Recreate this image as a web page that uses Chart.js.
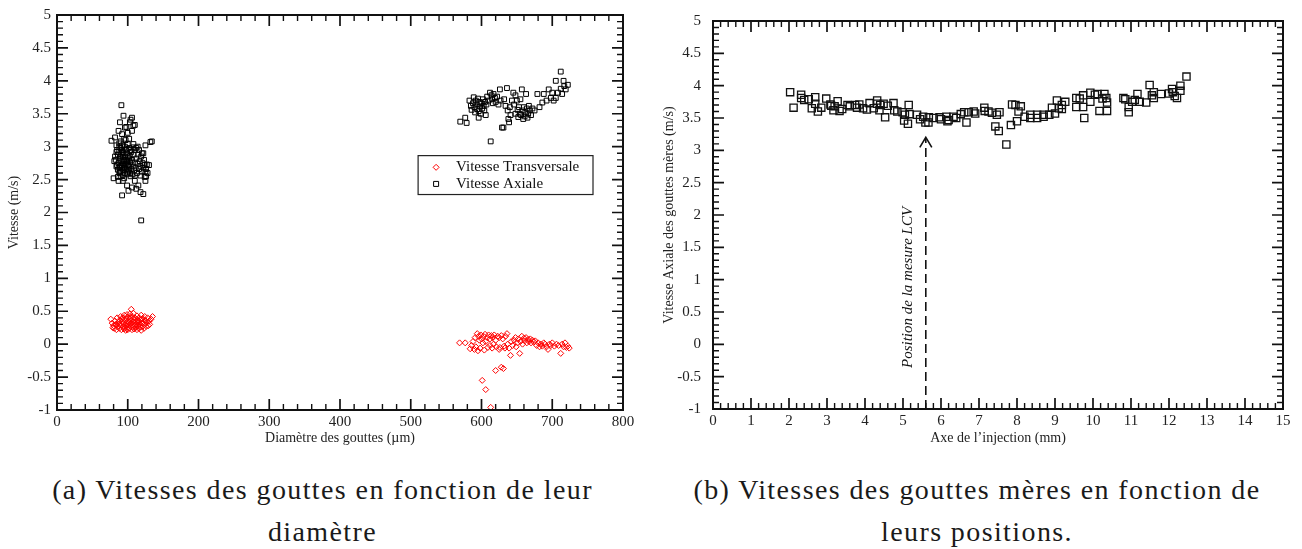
<!DOCTYPE html>
<html><head><meta charset="utf-8">
<script src="https://cdn.jsdelivr.net/npm/chart.js@4.4.1/dist/chart.umd.min.js"></script>
<style>
html,body{margin:0;padding:0;background:#fff;}
body{width:1302px;height:549px;position:relative;overflow:hidden;}
canvas{position:absolute;top:0;}
#cA{left:0}#cB{left:650px}
.cap{position:absolute;top:469px;text-align:center;white-space:nowrap;font-family:"Liberation Serif","Times New Roman",serif;font-size:28px;line-height:42px;letter-spacing:1.4px;color:#1a1a1a;}
</style></head><body>
<canvas id="cA" width="650" height="455"></canvas>
<canvas id="cB" width="652" height="455"></canvas>
<div class="cap" style="left:0;width:645px">(a) Vitesses des gouttes en fonction de leur<br>diamètre</div>
<div class="cap" style="left:652px;width:650px">(b) Vitesses des gouttes mères en fonction de<br>leurs positions.</div>
<script>
// ---------- data (a): [diamètre µm, vitesse m/s] ----------
const transSmall = [[76,0.38],[78,0.32],[80,0.28],[81,0.24],[82,0.35],[83,0.30],[84,0.22],[85,0.40],[86,0.27],[87,0.33],[88,0.24],[89,0.37],[90,0.29],[90,0.42],[91,0.22],[92,0.34],[93,0.26],[93,0.40],[94,0.31],[95,0.23],[95,0.44],[96,0.36],[97,0.28],[97,0.21],[98,0.39],[98,0.32],[99,0.25],[99,0.45],[100,0.35],[100,0.22],[101,0.41],[101,0.29],[102,0.33],[102,0.24],[103,0.38],[103,0.46],[104,0.27],[104,0.31],[105,0.53],[105,0.36],[106,0.22],[106,0.42],[107,0.30],[107,0.26],[108,0.38],[108,0.47],[109,0.33],[109,0.23],[110,0.29],[110,0.40],[111,0.35],[111,0.25],[112,0.31],[113,0.43],[113,0.22],[114,0.28],[114,0.36],[115,0.33],[116,0.24],[116,0.40],[117,0.30],[118,0.26],[118,0.37],[119,0.44],[119,0.21],[120,0.32],[121,0.27],[121,0.39],[122,0.34],[123,0.24],[124,0.42],[124,0.30],[125,0.36],[126,0.27],[127,0.33],[128,0.40],[129,0.28],[130,0.35],[131,0.30],[133,0.38],[135,0.42],[88,0.30],[92,0.38],[96,0.25],[100,0.30],[104,0.40],[108,0.34],[112,0.26],[116,0.35],[120,0.38],[79,0.25],[84,0.30]];
const transLarge = [[569,0.02],[577,0.02],[584,-0.07],[586,-0.02],[588,0.04],[590,-0.08],[591,0.10],[592,-0.04],[594,0.16],[595,-0.10],[596,0.12],[597,0.06],[598,-0.06],[599,0.14],[600,0.08],[601,-0.55],[602,0.02],[603,0.12],[604,-0.09],[605,0.15],[606,-0.69],[606,0.04],[608,0.10],[609,-0.05],[610,0.14],[612,0.08],[613,-0.96],[614,0.13],[615,-0.06],[616,0.10],[618,0.14],[620,-0.40],[620,0.06],[621,-0.04],[623,0.12],[625,0.10],[626,-0.05],[628,-0.35],[628,0.13],[630,0.08],[631,-0.37],[632,-0.03],[634,0.12],[636,0.16],[637,0.00],[639,-0.06],[641,-0.17],[642,0.04],[644,-0.02],[646,0.06],[648,0.10],[649,-0.04],[651,0.02],[652,0.08],[654,-0.14],[655,0.04],[657,0.12],[658,0.00],[660,0.09],[661,0.05],[663,0.10],[664,0.02],[666,0.07],[667,0.04],[669,0.08],[670,0.02],[672,0.06],[674,0.03],[676,0.05],[678,-0.02],[680,0.02],[682,-0.04],[684,0.00],[686,-0.03],[688,0.02],[690,0.00],[692,-0.04],[694,-0.08],[696,0.00],[698,-0.02],[700,0.02],[703,-0.03],[706,0.00],[709,-0.02],[712,-0.14],[714,0.00],[716,-0.04],[718,0.02],[720,-0.05],[722,-0.03],[724,-0.06],[612,-0.02],[617,0.00],[625,-0.08],[633,-0.06]];
const axialSmall = [[91,3.63],[94,3.47],[106,3.44],[103,3.37],[89,3.37],[96,3.29],[108,3.32],[106,3.24],[87,3.24],[92,3.19],[77,3.09],[82,3.14],[132,3.07],[134,3.08],[125,3.02],[108,3.04],[108,2.99],[110,3.33],[104,3.41],[98,3.30],[100,3.21],[95,3.12],[102,3.12],[88,3.05],[84,3.02],[90,3.08],[80,2.52],[87,2.48],[93,2.48],[110,2.48],[99,2.41],[106,2.38],[115,2.41],[118,2.31],[125,2.48],[122,2.28],[101,2.33],[92,2.26],[119,1.88],[112,2.36],[82,2.85],[83,2.80],[84,2.70],[85,2.95],[86,2.65],[86,2.88],[87,2.75],[88,2.60],[88,2.92],[89,2.70],[89,2.82],[90,2.98],[90,2.62],[91,2.78],[91,2.88],[92,2.68],[92,2.95],[93,2.57],[93,2.74],[93,2.84],[94,2.90],[94,2.65],[95,2.78],[95,2.70],[96,2.60],[96,2.85],[97,2.74],[97,2.95],[98,2.66],[98,2.80],[99,2.58],[99,2.90],[100,2.72],[100,2.84],[101,2.64],[101,2.78],[102,2.98],[102,2.70],[103,2.86],[103,2.60],[104,2.76],[105,2.66],[105,2.92],[106,2.80],[107,2.70],[107,2.58],[108,2.88],[109,2.64],[110,2.76],[110,2.95],[111,2.68],[112,2.82],[113,2.60],[114,2.74],[115,2.88],[116,2.66],[117,2.78],[118,2.70],[119,2.85],[120,2.62],[121,2.75],[122,2.68],[123,2.80],[124,2.72],[125,2.62],[126,2.66],[127,2.73],[128,2.60],[130,2.72],[86,2.54],[90,2.55],[95,2.52],[104,2.55],[118,2.56],[124,2.54],[81,2.78],[84,2.92],[88,3.00],[92,3.02],[96,3.00],[100,3.04],[97,3.10],[94,2.80],[91,2.72],[89,2.62],[96,2.68],[99,2.76],[93,2.92],[102,2.82],[85,2.72],[98,2.96],[88,2.68],[90,2.85],[104,2.95],[100,2.62],[116,2.95],[120,2.90],[112,2.98],[114,3.00],[126,2.55],[122,2.90],[110,2.56]];
const axialLarge = [[570,3.38],[577,3.44],[579,3.36],[583,3.70],[589,3.75],[585,3.62],[586,3.56],[588,3.66],[590,3.60],[591,3.52],[592,3.70],[593,3.64],[594,3.57],[595,3.73],[596,3.54],[597,3.68],[598,3.61],[599,3.50],[600,3.66],[601,3.58],[602,3.72],[603,3.62],[604,3.55],[605,3.68],[607,3.64],[608,3.76],[610,3.70],[612,3.82],[613,3.08],[614,3.78],[615,3.72],[616,3.66],[617,3.80],[619,3.74],[620,3.68],[622,3.76],[624,3.64],[626,3.87],[627,3.70],[629,3.29],[631,3.29],[632,3.72],[634,3.62],[636,3.89],[637,3.55],[638,3.42],[639,3.37],[640,3.60],[641,3.48],[643,3.70],[645,3.82],[646,3.64],[648,3.78],[650,3.70],[651,3.56],[652,3.45],[653,3.60],[654,3.50],[655,3.72],[656,3.48],[657,3.87],[658,3.55],[659,3.42],[660,3.60],[661,3.46],[662,3.52],[663,3.80],[664,3.58],[665,3.44],[666,3.50],[667,3.62],[668,3.55],[670,3.48],[672,3.58],[675,3.55],[679,3.80],[682,3.60],[686,3.67],[688,3.80],[692,3.70],[695,3.87],[698,3.74],[700,3.82],[702,3.70],[705,3.74],[705,4.00],[708,3.82],[712,4.14],[712,3.88],[716,4.00],[719,3.87],[722,3.94],[717,3.92],[714,3.80],[648,3.50],[606,3.48],[596,3.44]];
// ---------- data (b): [position mm, vitesse axiale m/s] ----------
const axialPos = [[2.03,3.90],[2.12,3.66],[2.32,3.86],[2.32,3.81],[2.52,3.79],[2.69,3.82],[2.69,3.72],[2.60,3.65],[2.76,3.60],[2.98,3.80],[3.09,3.71],[3.11,3.69],[3.28,3.76],[3.17,3.62],[3.33,3.61],[3.54,3.70],[3.74,3.70],[3.79,3.66],[3.95,3.65],[4.12,3.73],[4.32,3.77],[4.32,3.72],[4.49,3.72],[4.23,3.65],[4.38,3.62],[4.53,3.51],[4.75,3.73],[4.77,3.62],[4.99,3.59],[5.15,3.70],[5.03,3.46],[5.13,3.41],[5.17,3.56],[5.37,3.55],[5.53,3.52],[5.68,3.51],[5.59,3.43],[5.67,3.43],[5.96,3.51],[6.14,3.52],[6.20,3.47],[6.33,3.52],[6.17,3.45],[6.61,3.59],[6.73,3.59],[6.86,3.60],[6.67,3.43],[7.14,3.66],[7.15,3.61],[7.34,3.58],[7.54,3.59],[7.43,3.37],[7.52,3.30],[7.72,3.09],[7.87,3.71],[7.96,3.70],[8.10,3.68],[8.04,3.60],[8.00,3.45],[7.84,3.39],[8.35,3.55],[8.53,3.55],[8.70,3.55],[8.35,3.50],[8.53,3.50],[8.70,3.52],[8.92,3.66],[9.05,3.77],[9.18,3.70],[9.27,3.75],[9.00,3.57],[9.18,3.64],[9.56,3.81],[9.56,3.67],[9.74,3.85],[9.74,3.67],[9.77,3.50],[9.93,3.89],[9.93,3.75],[10.12,3.87],[10.30,3.87],[10.35,3.81],[10.37,3.74],[10.17,3.61],[10.37,3.61],[10.80,3.81],[10.94,3.67],[10.94,3.59],[11.03,3.75],[11.17,3.87],[11.23,3.75],[11.40,3.74],[11.60,3.81],[11.49,4.01],[11.60,3.90],[11.79,3.87],[12.08,3.95],[12.10,3.90],[12.21,3.81],[12.30,4.00],[12.30,3.92],[12.46,4.14],[2.40,3.78],[2.85,3.66],[3.20,3.68],[3.40,3.64],[3.60,3.68],[3.85,3.71],[4.05,3.63],[4.60,3.69],[4.40,3.70],[4.85,3.60],[5.05,3.55],[5.45,3.48],[5.80,3.50],[6.00,3.48],[6.40,3.50],[6.52,3.56],[6.90,3.57],[7.25,3.60],[7.47,3.55],[8.20,3.52],[8.85,3.55],[9.10,3.65],[9.65,3.80],[10.05,3.86],[10.25,3.80],[10.85,3.79],[11.10,3.78],[11.55,3.85],[12.00,3.88],[12.15,3.84]];

// ---------- ticks & labels ----------
const diamTicks = [0,100,200,300,400,500,600,700,800];
const vitTicks = [-1,-0.5,0,0.5,1,1.5,2,2.5,3,3.5,4,4.5,5];
const posTicks = [0,1,2,3,4,5,6,7,8,9,10,11,12,13,14,15];
const seriesNames = ['Vitesse Transversale','Vitesse Axiale'];
const titlesA = {x:'Diamètre des gouttes (µm)', y:'Vitesse (m/s)'};
const titlesB = {x:'Axe de l\u2019injection (mm)', y:'Vitesse Axiale des gouttes mères (m/s)'};
const lcvPosition = 5.6, lcvArrowTip = 3.2;
const lcvLabel = 'Position de la mesure LCV';
const lcvLabelAt = [5.14, 0.88];

const SERIF = '"Liberation Serif","Times New Roman",serif';
const pts = a => a.map(([x, y]) => ({x, y}));
const fixTicks = vals => s => { s.ticks = vals.map(v => ({value: v})); };

const frameTicks = {
  id: 'frameTicks',
  afterDraw(chart, args, o) {
    const {ctx, chartArea: a, scales} = chart;
    ctx.save();
    ctx.strokeStyle = '#111';
    const draw = (scale, minor, horiz) => {
      const majors = scale.ticks.map(t => t.value);
      const n = Math.round((scale.max - scale.min) / minor);
      for (let i = 1; i < n; i++) {
        const v = scale.min + i * minor;
        const major = majors.some(m => Math.abs(m - v) < minor / 100);
        const len = major ? o.major : o.minor;
        const p = scale.getPixelForValue(v);
        ctx.lineWidth = major ? 1.7 : 1.4;
        ctx.beginPath();
        if (horiz) {
          ctx.moveTo(p, a.bottom); ctx.lineTo(p, a.bottom - len);
          ctx.moveTo(p, a.top); ctx.lineTo(p, a.top + len);
        } else {
          ctx.moveTo(a.left, p); ctx.lineTo(a.left + len, p);
          ctx.moveTo(a.right, p); ctx.lineTo(a.right - len, p);
        }
        ctx.stroke();
      }
    };
    draw(scales.x, o.xMinor, true);
    draw(scales.y, o.yMinor, false);
    ctx.lineWidth = 2;
    ctx.strokeRect(a.left, a.top, a.width, a.height);
    ctx.restore();
  }
};

const boxLegend = {
  id: 'boxLegend',
  afterDraw(chart, args, o) {
    if (!o || !o.show) return;
    const {ctx, chartArea: a} = chart;
    const L = a.left + o.left * a.width, T = a.top + o.top * a.height;
    const W = o.width * a.width, H = o.height * a.height;
    ctx.save();
    ctx.fillStyle = '#fff'; ctx.fillRect(L, T, W, H);
    ctx.strokeStyle = '#222'; ctx.lineWidth = 1.2; ctx.strokeRect(L, T, W, H);
    ctx.font = '15px ' + SERIF; ctx.textBaseline = 'middle'; ctx.textAlign = 'left';
    chart.data.datasets.forEach((ds, i) => {
      const cy = T + o.rowY[i], cx = L + o.markerX;
      ctx.strokeStyle = ds.borderColor; ctx.lineWidth = 1;
      ctx.beginPath();
      if (ds.pointStyle === 'rectRot') {
        ctx.moveTo(cx - 3, cy); ctx.lineTo(cx, cy - 3); ctx.lineTo(cx + 3, cy); ctx.lineTo(cx, cy + 3); ctx.closePath();
      } else {
        ctx.rect(cx - 2.5, cy - 2.5, 5, 5);
      }
      ctx.stroke();
      ctx.fillStyle = '#111';
      ctx.fillText(ds.label, L + o.textX, cy);
    });
    ctx.restore();
  }
};

const lcvArrow = {
  id: 'lcvArrow',
  afterDatasetsDraw(chart, args, o) {
    if (!o || !o.show) return;
    const {ctx, scales: {x, y}} = chart;
    const px = x.getPixelForValue(o.at), top = y.getPixelForValue(o.tip), bot = y.getPixelForValue(y.min);
    ctx.save();
    ctx.strokeStyle = '#111'; ctx.lineWidth = 1.6;
    ctx.setLineDash([9, 5]);
    ctx.beginPath(); ctx.moveTo(px, bot); ctx.lineTo(px, top + 1); ctx.stroke();
    ctx.setLineDash([]);
    ctx.beginPath(); ctx.moveTo(px - 6, top + 10); ctx.lineTo(px, top); ctx.lineTo(px + 6, top + 10); ctx.stroke();
    const lx = x.getPixelForValue(o.labelAt[0]), ly = y.getPixelForValue(o.labelAt[1]);
    ctx.translate(lx, ly); ctx.rotate(-Math.PI / 2);
    ctx.font = 'italic 15px ' + SERIF; ctx.textAlign = 'center'; ctx.textBaseline = 'middle'; ctx.fillStyle = '#111';
    ctx.fillText(o.label, 0, 0);
    ctx.restore();
  }
};

function axis(min, max, vals, fit, title, tickPad, titlePad, isY) {
  return {
    type: 'linear', min, max,
    afterBuildTicks: fixTicks(vals),
    afterFit: s => { if (isY) s.width = fit; else s.height = fit; },
    grid: {display: false, drawTicks: false},
    border: {display: false},
    ticks: {padding: tickPad, autoSkip: false, maxRotation: 0, color: '#222',
      font: {family: SERIF, size: 15}, callback: v => String(Math.round(v * 10) / 10)},
    title: {display: true, text: title, color: '#222', font: {family: SERIF, size: 14}, padding: titlePad}
  };
}

Chart.defaults.font.family = SERIF;

new Chart(document.getElementById('cA'), {
  type: 'scatter',
  data: {datasets: [
    {label: seriesNames[0], data: pts(transSmall.concat(transLarge)), pointStyle: 'rectRot', pointRadius: 3, pointHoverRadius: 3,
      borderColor: '#ff0000', backgroundColor: 'rgba(0,0,0,0)', borderWidth: 1},
    {label: seriesNames[1], data: pts(axialSmall.concat(axialLarge)), pointStyle: 'rect', pointRadius: 3.4, pointHoverRadius: 3.4,
      borderColor: '#000000', backgroundColor: 'rgba(0,0,0,0)', borderWidth: 1}
  ]},
  options: {
    responsive: false, animation: false, events: [],
    layout: {padding: {left: 0, right: 27, top: 14, bottom: 0}},
    plugins: {
      legend: {display: false}, tooltip: {enabled: false},
      frameTicks: {xMinor: 20, yMinor: 0.1, major: 11, minor: 6},
      boxLegend: {show: true, left: 0.638, top: 0.356, width: 0.309, height: 0.0985, markerX: 18, textX: 38, rowY: [11.7, 28.3]}
    },
    scales: {
      x: axis(0, 800, diamTicks, 45, titlesA.x, 3, {top: 0, bottom: 8.6}, false),
      y: axis(-1, 5, vitTicks, 57, titlesA.y, 6, {top: 5.6, bottom: 0}, true)
    }
  },
  plugins: [frameTicks, boxLegend]
});

new Chart(document.getElementById('cB'), {
  type: 'scatter',
  data: {datasets: [
    {label: seriesNames[1], data: pts(axialPos), pointStyle: 'rect', pointRadius: 5.1, pointHoverRadius: 5.1,
      borderColor: '#111111', backgroundColor: 'rgba(0,0,0,0)', borderWidth: 1.3}
  ]},
  options: {
    responsive: false, animation: false, events: [],
    layout: {padding: {left: 0, right: 19, top: 10, bottom: 0}},
    plugins: {
      legend: {display: false}, tooltip: {enabled: false},
      frameTicks: {xMinor: 0.2, yMinor: 0.1, major: 11, minor: 6},
      lcvArrow: {show: true, at: lcvPosition, tip: lcvArrowTip, label: lcvLabel, labelAt: lcvLabelAt}
    },
    scales: {
      x: axis(0, 15, posTicks, 46, titlesB.x, 3, {top: 0, bottom: 8.6}, false),
      y: axis(-1, 5, vitTicks, 63, titlesB.y, 12, {top: 11, bottom: 0}, true)
    }
  },
  plugins: [frameTicks, lcvArrow]
});
</script>
</body></html>
